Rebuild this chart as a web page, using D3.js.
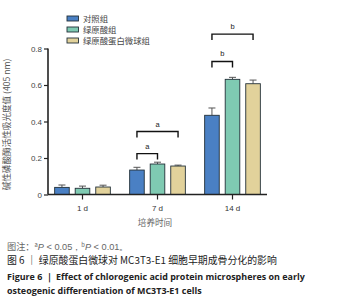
<!DOCTYPE html>
<html>
<head>
<meta charset="utf-8">
<script src="https://cdn.jsdelivr.net/npm/d3@7"></script>
<style>
  body { margin: 0; background: #fff; }
  svg { display: block; }
</style>
</head>
<body>
<div class="container"></div>
<script>
// data
var days = ["1 d", "7 d", "14 d"];
var groups = ["对照组", "绿原酸组", "绿原酸蛋白微球组"];
var means = [
    [0.039, 0.034, 0.041],
    [0.134, 0.167, 0.156],
    [0.434, 0.631, 0.607]
];
var errors = [
    [0.013, 0.012, 0.010],
    [0.015, 0.010, 0.005],
    [0.040, 0.011, 0.020]
];
var yTicks = [0, 0.2, 0.4, 0.6, 0.8];
var yTickLabels = ["0", "0.2", "0.4", "0.6", "0.8"];
// significance brackets: day index, from group, to group, level (value), label
var brackets = [
    { day: 1, from: 0, to: 1, level: 0.224, label: "a" },
    { day: 1, from: 0, to: 2, level: 0.345, label: "a" },
    { day: 2, from: 0, to: 1, level: 0.729, label: "b" },
    { day: 2, from: 0, to: 2, level: 0.879, label: "b" }
];
var colors = ["#4a80c4", "#7fcab2", "#e2d29b"];

var svg = d3.select(".container").append("svg")
    .attr("width", 360)
    .attr("height", 298);

var x0 = 48, x1 = 267, yBottom = 194.5, yTop = 48.5;

var x = d3.scaleBand()
    .domain(days)
    .range([45, 270]);

var xInner = d3.scaleBand()
    .domain(d3.range(groups.length))
    .range([0, x.bandwidth()])
    .paddingInner(0.29)
    .paddingOuter(0.47);

var y = d3.scaleLinear()
    .domain([0, 0.8])
    .range([yBottom, yTop]);

var sans = "'Liberation Sans', 'DejaVu Sans', sans-serif";
var cjk = "'Noto Sans CJK SC', sans-serif";

// bars
var g = svg.append("g");
days.forEach(function (day, i) {
    groups.forEach(function (grp, j) {
        var cx = x(day) + xInner(j) + xInner.bandwidth() / 2;
        var top = y(means[i][j] + errors[i][j]);
        g.append("line")
            .attr("x1", cx).attr("x2", cx)
            .attr("y1", y(means[i][j])).attr("y2", top)
            .attr("stroke", "#555").attr("stroke-width", 1);
        g.append("line")
            .attr("x1", cx - 3.5).attr("x2", cx + 3.5)
            .attr("y1", top).attr("y2", top)
            .attr("stroke", "#555").attr("stroke-width", 1);
        g.append("rect")
            .attr("x", x(day) + xInner(j))
            .attr("y", y(means[i][j]))
            .attr("width", xInner.bandwidth())
            .attr("height", yBottom - y(means[i][j]))
            .attr("fill", colors[j])
            .attr("stroke", "#233038")
            .attr("stroke-width", 0.9);
    });
});

// axes
var yAxis = svg.append("g")
    .attr("transform", "translate(" + x0 + ",0)")
    .call(d3.axisLeft(y).tickValues(yTicks).tickSize(4).tickPadding(2)
        .tickFormat(function (d, i) { return yTickLabels[i]; }));
yAxis.select(".domain").attr("stroke", "#222").attr("stroke-width", 1.6)
    .attr("d", "M0," + yBottom + "V" + yTop);
yAxis.selectAll(".tick line").attr("stroke", "#222").attr("stroke-width", 1.2);
yAxis.selectAll("text").attr("font-family", sans).attr("font-size", 8).attr("fill", "#444");

var xAxis = svg.append("g")
    .attr("transform", "translate(0," + yBottom + ")")
    .call(d3.axisBottom(x).tickSize(5).tickPadding(6));
xAxis.select(".domain").attr("stroke", "#222").attr("stroke-width", 1.6)
    .attr("d", "M" + x0 + ",0H" + x1);
xAxis.selectAll(".tick line").attr("stroke", "#222").attr("stroke-width", 1.2);
xAxis.selectAll("text").attr("font-family", sans).attr("font-size", 8).attr("fill", "#333");

// axis titles
svg.append("text")
    .attr("transform", "translate(10," + ((yBottom + yTop) / 2 + 3) + ") rotate(-90)")
    .attr("text-anchor", "middle")
    .attr("font-family", cjk)
    .attr("font-size", 8.6)
    .attr("fill", "#555")
    .text("碱性磷酸酶活性吸光度值 (405 nm)");

svg.append("text")
    .attr("x", 155).attr("y", 226)
    .attr("text-anchor", "middle")
    .attr("font-family", cjk)
    .attr("font-size", 8.6)
    .attr("fill", "#666")
    .text("培养时间");

// brackets
brackets.forEach(function (b) {
    var xa = x(days[b.day]) + xInner(b.from) + xInner.bandwidth() / 2;
    var xb = x(days[b.day]) + xInner(b.to) + xInner.bandwidth() / 2;
    var yy = y(b.level);
    svg.append("path")
        .attr("d", "M" + xa + "," + (yy + 6) + "V" + yy + "H" + xb + "V" + (yy + 6))
        .attr("fill", "none")
        .attr("stroke", "#111")
        .attr("stroke-width", 1.4);
    svg.append("text")
        .attr("x", (xa + xb) / 2).attr("y", yy - 5)
        .attr("text-anchor", "middle")
        .attr("font-family", sans)
        .attr("font-size", 7.5)
        .attr("fill", "#222")
        .text(b.label);
});

// legend
var legend = svg.append("g");
groups.forEach(function (grp, j) {
    var ly = 18.5 + j * 11;
    legend.append("rect")
        .attr("x", 67).attr("y", ly - 2.5)
        .attr("width", 11.5).attr("height", 5)
        .attr("fill", colors[j])
        .attr("stroke", "#233038").attr("stroke-width", 0.9);
    legend.append("text")
        .attr("x", 83).attr("y", ly + 3)
        .attr("font-family", cjk)
        .attr("font-size", 8.4)
        .attr("fill", "#444")
        .text(grp);
});

// caption
var note = svg.append("text")
    .attr("x", 7).attr("y", 250)
    .attr("font-family", cjk)
    .attr("font-size", 9.2)
    .attr("fill", "#666");
note.append("tspan").text("图注：");
note.append("tspan").attr("font-size", 5.8).attr("dy", -3).text("a");
note.append("tspan").attr("dy", 3).attr("font-style", "italic").attr("font-family", sans).text("P");
note.append("tspan").attr("font-family", sans).text(" < 0.05，");
note.append("tspan").attr("font-size", 5.8).attr("dy", -3).text("b");
note.append("tspan").attr("dy", 3).attr("font-style", "italic").attr("font-family", sans).text("P");
note.append("tspan").attr("font-family", sans).text(" < 0.01。");

svg.append("text")
    .attr("x", 7).attr("y", 263.5)
    .attr("font-family", cjk)
    .attr("font-size", 9.9)
    .attr("fill", "#222")
    .text("图 6 ｜ 绿原酸蛋白微球对 MC3T3-E1 细胞早期成骨分化的影响");

svg.append("text")
    .attr("x", 7).attr("y", 279.5)
    .attr("font-family", "'Open Sans', sans-serif")
    .attr("font-weight", "bold")
    .attr("font-size", 8.95)
    .attr("fill", "#222")
    .text("Figure 6 ｜ Effect of chlorogenic acid protein microspheres on early");

svg.append("text")
    .attr("x", 7).attr("y", 293.5)
    .attr("font-family", "'Open Sans', sans-serif")
    .attr("font-weight", "bold")
    .attr("font-size", 8.95)
    .attr("fill", "#222")
    .text("osteogenic differentiation of MC3T3-E1 cells");
</script>
</body>
</html>
